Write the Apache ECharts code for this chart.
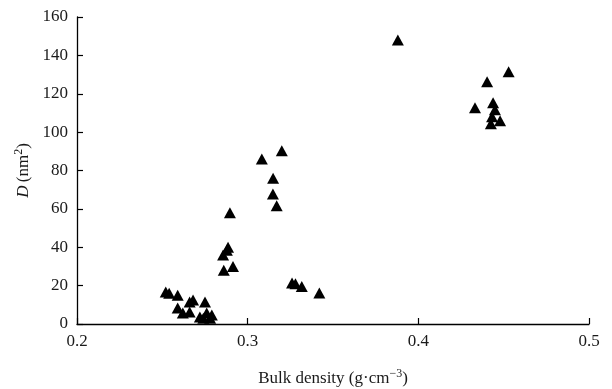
<!DOCTYPE html>
<html>
<head>
<meta charset="utf-8">
<script src="https://cdn.jsdelivr.net/npm/echarts@6/dist/echarts.min.js"></script>
<style>
html,body{margin:0;padding:0;background:#fff;}
#chart{width:612px;height:389px;}
</style>
</head>
<body>
<div id="chart"></div>
<script>
// Bulk density (g·cm^-3) against D (nm^2)
const bulkDensity = [
  0.252, 0.254, 0.259, 0.266, 0.268, 0.275, 0.259, 0.262, 0.266, 0.272, 0.276, 0.279, 0.274, 0.278,
  0.2896, 0.2885, 0.2878, 0.2856, 0.2914, 0.286,
  0.3083, 0.320, 0.3149, 0.3148, 0.317,
  0.326, 0.328, 0.3317, 0.342,
  0.388,
  0.4529, 0.4403, 0.4332, 0.4438, 0.4449, 0.4432, 0.4479, 0.4425
];
const dValues = [
  16.7, 16.0, 15.0, 11.5, 12.5, 11.5, 8.3, 5.7, 6.3, 3.7, 5.7, 4.7, 3.0, 3.0,
  58.0, 40.0, 38.5, 36.0, 30.0, 28.0,
  86.0, 90.3, 76.0, 67.8, 61.6,
  21.4, 21.0, 19.5, 16.2,
  148.0,
  131.5, 126.3, 112.7, 115.3, 111.7, 108.0, 105.9, 104.4
];
const xTicks = { min: 0.2, max: 0.5, step: 0.1 };
const yTicks = { min: 0, max: 160, step: 20 };

const points = bulkDensity.map((x, i) => [x, dValues[i]]);
const serif = 'Liberation Serif';
const ink = '#1a1a1a';
const fs = 17;

const chart = echarts.init(document.getElementById('chart'), null, { renderer: 'canvas' });
chart.setOption({
  animation: false,
  backgroundColor: '#fff',
  grid: { left: 77, right: 23, top: 17, bottom: 65, containLabel: false, outerBoundsMode: 'none' },
  xAxis: {
    type: 'value',
    min: xTicks.min, max: xTicks.max, interval: xTicks.step,
    axisLine: { lineStyle: { color: '#000', width: 1.3 } },
    axisTick: { inside: true, length: 6, lineStyle: { color: '#000', width: 1.2 } },
    splitLine: { show: false },
    axisLabel: { color: ink, fontFamily: serif, fontSize: fs, margin: 9,
      formatter: v => v.toFixed(1) },
    name: '{n|Bulk density (g·cm}{s|−3}{n|)}',
    nameLocation: 'middle', nameGap: 44,
    nameTextStyle: { rich: {
      n: { fontFamily: serif, fontSize: fs, color: ink },
      s: { fontFamily: serif, fontSize: 12, color: ink, verticalAlign: 'top', padding: [0, 0, 9, 0] }
    } }
  },
  yAxis: {
    type: 'value',
    min: yTicks.min, max: yTicks.max, interval: yTicks.step,
    axisLine: { show: true, lineStyle: { color: '#000', width: 1.3 } },
    axisTick: { show: true, inside: true, length: 6, lineStyle: { color: '#000', width: 1.2 } },
    splitLine: { show: false },
    axisLabel: { color: ink, fontFamily: serif, fontSize: fs, margin: 9 },
    name: '{i|D} {n|(nm}{s|2}{n|)}',
    nameLocation: 'middle', nameGap: 34, nameRotate: 90,
    nameTextStyle: { rich: {
      i: { fontFamily: serif, fontSize: fs, fontStyle: 'italic', color: ink },
      n: { fontFamily: serif, fontSize: fs, color: ink },
      s: { fontFamily: serif, fontSize: 12, color: ink, verticalAlign: 'top', padding: [0, 0, 9, 0] }
    } }
  },
  series: [{
    type: 'scatter',
    data: points,
    symbol: 'triangle',
    symbolSize: [12, 11],
    itemStyle: { color: '#000', opacity: 1 }
  }]
});
</script>
</body>
</html>
